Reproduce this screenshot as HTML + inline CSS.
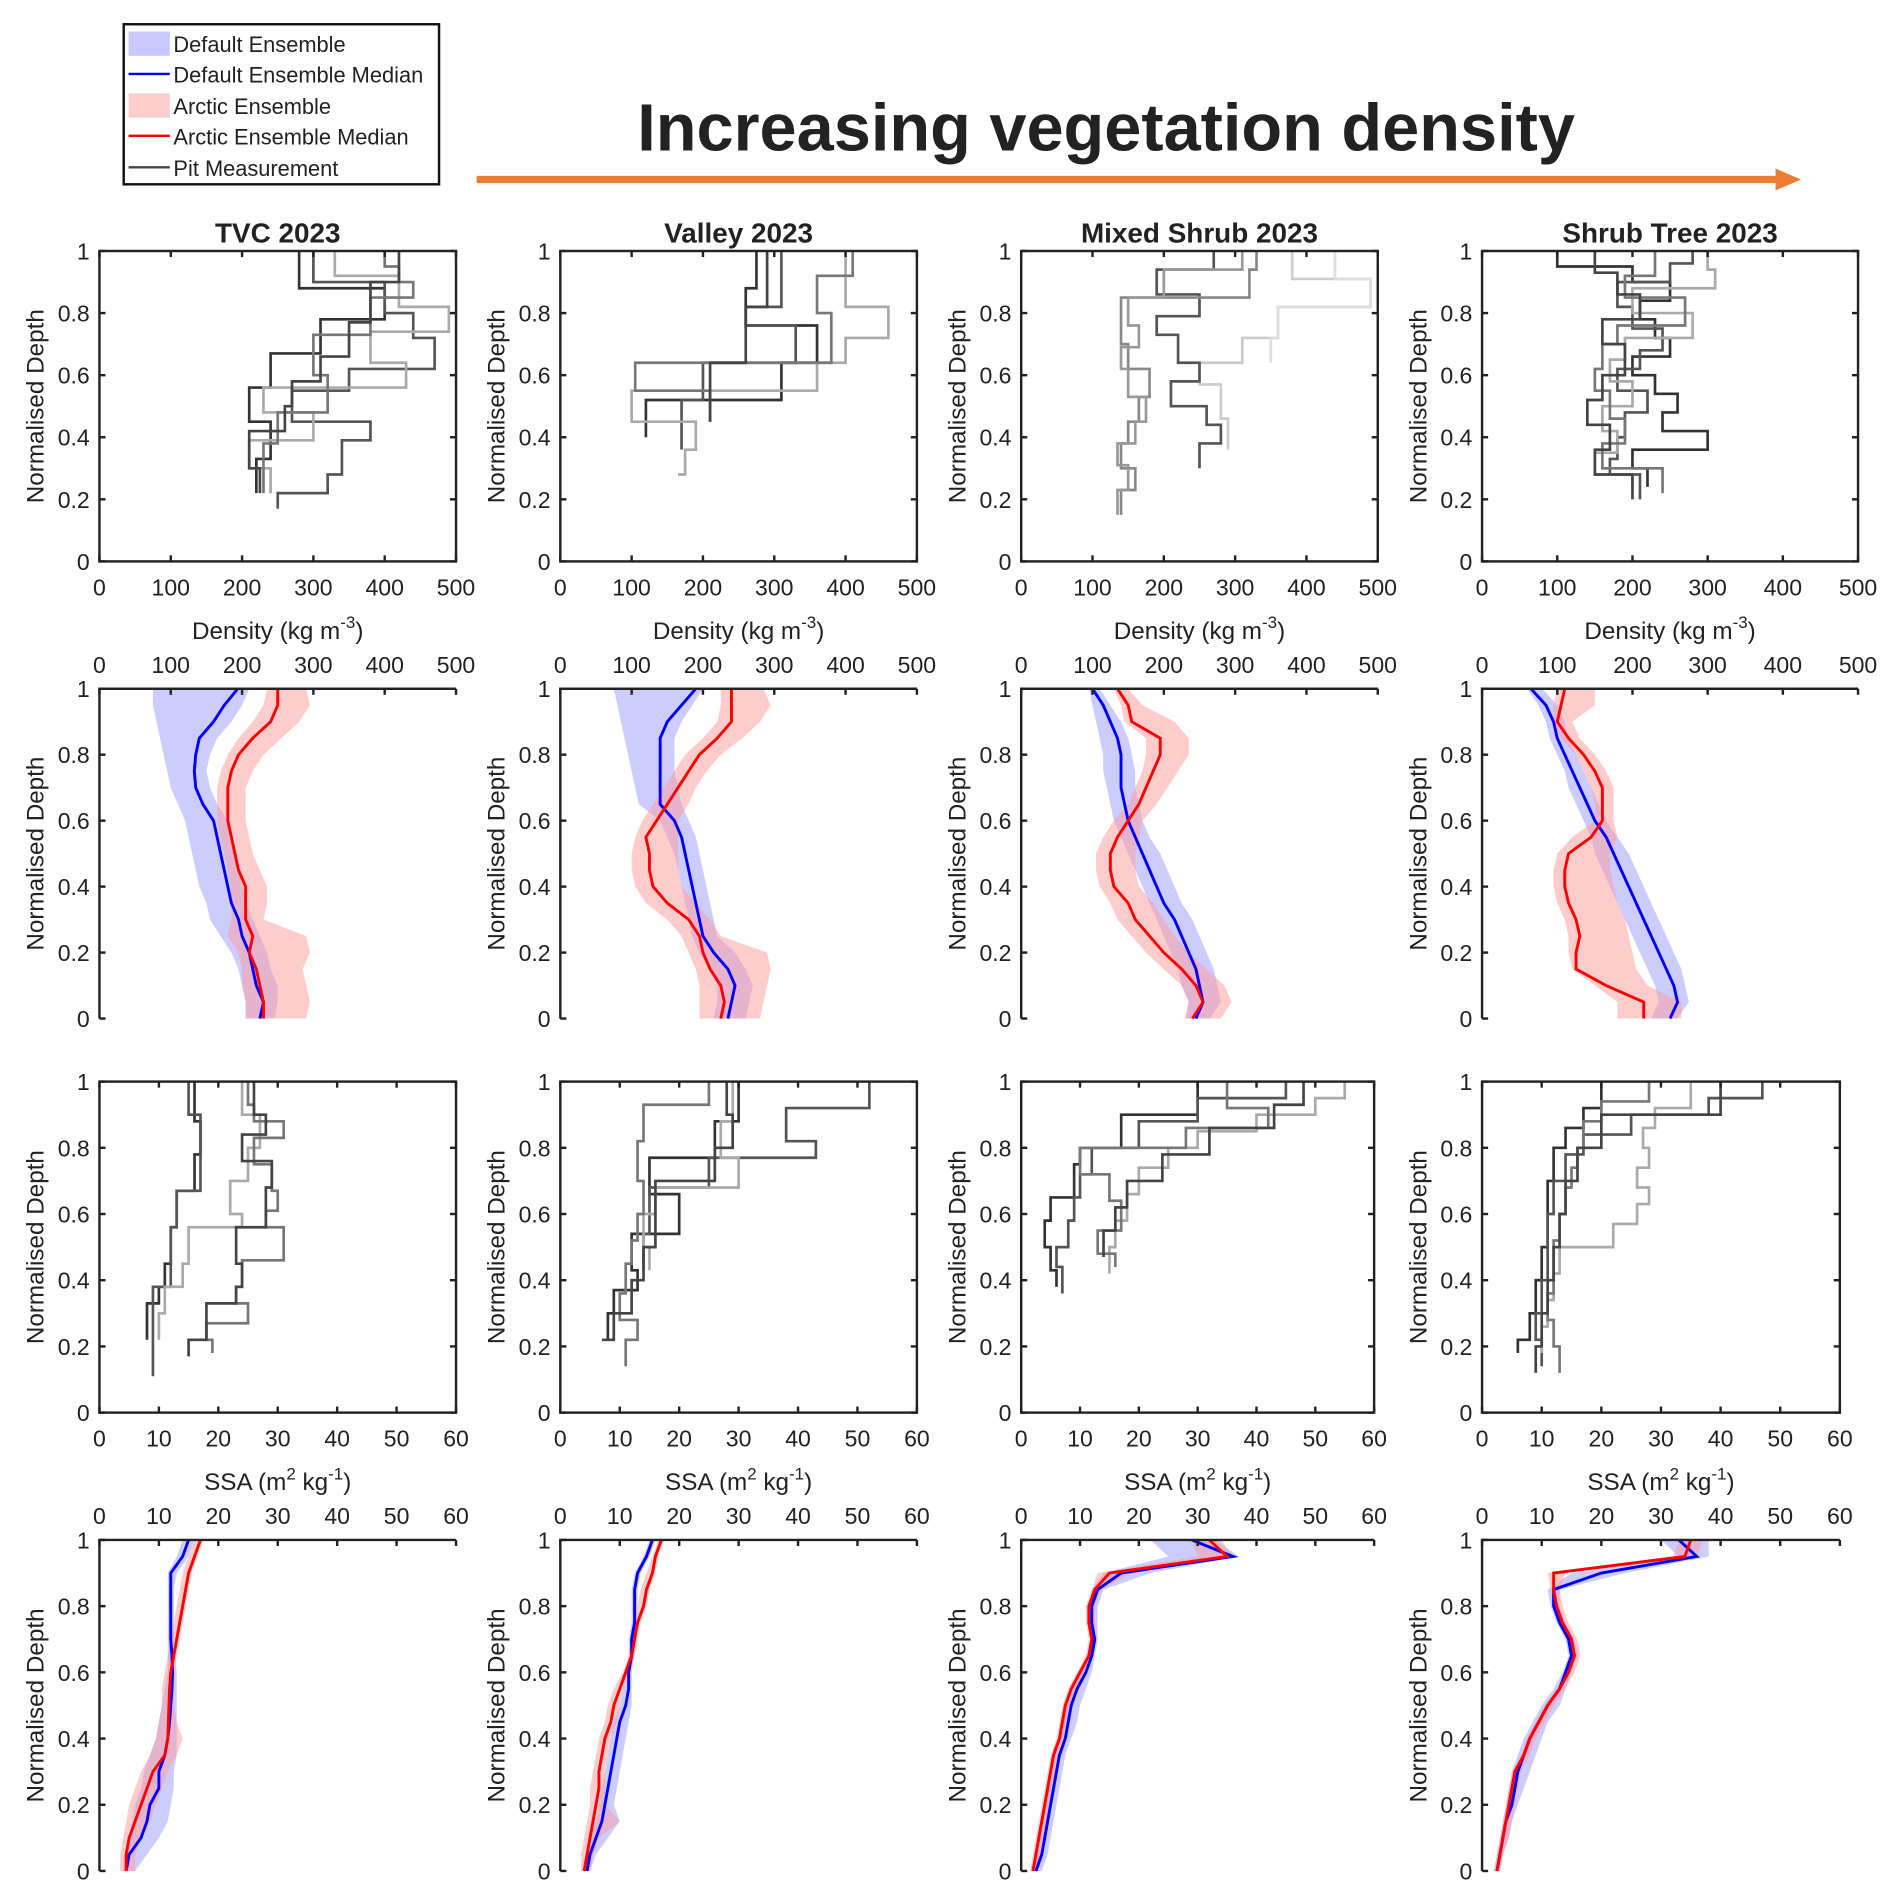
<!DOCTYPE html>
<html><head><meta charset="utf-8"><style>
html,body{margin:0;padding:0;background:#fff}
svg{display:block}
text{font-family:"Liberation Sans",Arial,sans-serif;fill:#222}
</style></head><body>
<svg id="fig" width="1892" height="1894" viewBox="0 0 1560 1562" preserveAspectRatio="none" xmlns="http://www.w3.org/2000/svg">
<g>
<rect x="102" y="20" width="260" height="132" fill="#fff" stroke="#111" stroke-width="2"/>
<rect x="106" y="26" width="34" height="20" fill="#c8c8ff"/>
<text x="143" y="43" font-size="18">Default Ensemble</text>
<line x1="106" y1="61" x2="140" y2="61" stroke="#0000ff" stroke-width="2"/>
<text x="143" y="68" font-size="18">Default Ensemble Median</text>
<rect x="106" y="77" width="34" height="20" fill="#ffcccc"/>
<text x="143" y="94" font-size="18">Arctic Ensemble</text>
<line x1="106" y1="112" x2="140" y2="112" stroke="#ff0000" stroke-width="2"/>
<text x="143" y="119" font-size="18">Arctic Ensemble Median</text>
<line x1="106" y1="138" x2="140" y2="138" stroke="#444" stroke-width="2"/>
<text x="143" y="145" font-size="18">Pit Measurement</text>
</g>
<text x="912" y="124" font-size="55" font-weight="bold" text-anchor="middle" fill="#000">Increasing vegetation density</text>
<line x1="393" y1="148" x2="1466" y2="148" stroke="#ed7d31" stroke-width="6"/>
<polygon points="1464,139 1485,148 1464,157" fill="#ed7d31"/>
<g id="plots"></g>
</svg>
<script>
// depth grid for ensembles (1 -> 0)
const ensDepth=[1,0.95,0.9,0.85,0.8,0.75,0.7,0.65,0.6,0.55,0.5,0.45,0.4,0.35,0.3,0.25,0.2,0.15,0.1,0.05,0];
const colTitles=["TVC 2023","Valley 2023","Mixed Shrub 2023","Shrub Tree 2023"];
const densTicks=[0,100,200,300,400,500];
const ssaTicks=[0,10,20,30,40,50,60];
const depthTicks=[0,0.2,0.4,0.6,0.8,1];
const depthTickLabels=["0","0.2","0.4","0.6","0.8","1"];

// Pit density profiles: [depth breaks, values]
const pitsDens1=[
 [[1,0.88,0.78,0.67,0.56,0.45,0.33,0.22],[280,400,310,240,210,240,220]],
 [[1,0.9,0.8,0.72,0.62,0.55,0.45,0.39,0.28,0.22,0.17],[300,400,440,470,350,270,380,340,320,250]],
 [[1,0.92,0.82,0.74,0.64,0.56,0.48,0.39,0.3,0.22],[330,420,490,380,430,230,300,210,240]],
 [[1,0.95,0.9,0.85,0.73,0.6,0.48,0.38,0.22],[400,420,440,380,300,320,250,230]],
 [[1,0.9,0.77,0.66,0.58,0.5,0.42,0.3,0.22],[420,380,350,310,270,260,210,225]]];
const pitsDens2=[
 [[1,0.88,0.76,0.64,0.52,0.4],[275,260,360,310,120]],
 [[1,0.82,0.76,0.64,0.52,0.36],[310,260,330,200,170]],
 [[1,0.82,0.72,0.64,0.55,0.45,0.36,0.28],[400,460,400,360,100,190,175,165]],
 [[1,0.92,0.8,0.64,0.55,0.45],[410,360,380,105,210]],
 [[1,0.82,0.64,0.52,0.45],[290,260,210,210]]];
const pitsDens3=[
 [[1,0.91,0.82,0.72,0.64,0.57,0.46,0.36],[380,490,360,310,250,280,290]],
 [[1,0.91,0.82,0.72,0.64],[440,490,360,350]],
 [[1,0.94,0.86,0.79,0.73,0.64,0.58,0.5,0.44,0.38,0.3],[270,190,250,190,220,250,210,260,280,250]],
 [[1,0.94,0.85,0.7,0.62,0.53,0.45,0.38,0.3,0.23,0.15],[330,320,140,150,180,165,150,140,160,140]],
 [[1,0.94,0.85,0.76,0.69,0.62,0.53,0.45,0.38,0.31,0.23,0.15],[310,200,150,165,140,150,175,160,135,150,135]]];
const pitsDens4=[
 [[1,0.95,0.9,0.84,0.78,0.72,0.66,0.6,0.54,0.48,0.42,0.36,0.3,0.24],[100,200,250,210,230,250,200,230,260,240,300,200,220]],
 [[1,0.96,0.9,0.82,0.75,0.68,0.62,0.55,0.48,0.4,0.33,0.28,0.2],[280,250,180,200,240,210,180,220,190,180,170,210]],
 [[1,0.94,0.88,0.8,0.72,0.65,0.58,0.5,0.42,0.35,0.28,0.22],[300,310,200,280,190,170,200,160,180,150,200]],
 [[1,0.92,0.85,0.76,0.7,0.62,0.55,0.46,0.38,0.3,0.22],[230,190,270,180,160,150,170,190,160,240]],
 [[1,0.93,0.86,0.78,0.7,0.6,0.52,0.44,0.36,0.28,0.2],[150,180,210,160,190,160,140,170,150,200]]];
// Pit SSA profiles
const pitsSsa1=[
 [[1,0.88,0.78,0.67,0.56,0.45,0.38,0.33,0.22],[16,17,16,13,12,11,10,8]],
 [[1,0.9,0.8,0.67,0.56,0.38,0.33,0.22,0.11],[15,17,17,13,12,9,9,9]],
 [[1,0.9,0.8,0.7,0.6,0.56,0.45,0.38,0.3,0.22],[24,27,25,22,24,15,14,11,10]],
 [[1,0.93,0.88,0.83,0.75,0.67,0.61,0.56,0.46,0.38,0.33,0.27,0.22,0.18],[25,26,31,26,29,30,28,31,24,23,25,18,19]],
 [[1,0.9,0.84,0.76,0.68,0.56,0.45,0.38,0.33,0.22,0.17],[26,28,24,29,28,23,24,23,18,15]]];
const pitsSsa2=[
 [[1,0.88,0.77,0.66,0.54,0.43,0.37,0.3,0.22],[30,26,15,20,12,13,9,8]],
 [[1,0.92,0.82,0.77,0.68,0.54,0.43],[52,38,43,25,15,14]],
 [[1,0.88,0.77,0.68,0.6,0.5,0.43],[29,27,30,16,14,15]],
 [[1,0.93,0.82,0.7,0.6,0.52,0.45,0.36,0.28,0.22,0.14],[25,14,13,14,13,12,11,10,13,11]],
 [[1,0.9,0.8,0.7,0.6,0.5,0.4,0.3,0.22],[28,29,26,16,16,14,12,9,7]]];
const pitsSsa3=[
 [[1,0.9,0.8,0.75,0.65,0.58,0.5,0.43,0.38],[30,17,10,9,5,4,5,6]],
 [[1,0.95,0.88,0.8,0.72,0.65,0.58,0.5,0.44,0.36],[45,30,20,12,10,9,8,6,7]],
 [[1,0.95,0.9,0.85,0.8,0.74,0.66,0.58,0.5,0.42],[55,50,40,30,25,20,18,16,15]],
 [[1,0.92,0.86,0.8,0.72,0.64,0.55,0.48,0.44],[35,42,28,10,15,17,13,16]],
 [[1,0.93,0.86,0.78,0.7,0.62,0.55,0.47],[48,43,32,24,18,16,14]]];
const pitsSsa4=[
 [[1,0.92,0.86,0.8,0.7,0.6,0.5,0.4,0.3,0.22,0.18],[20,17,14,12,11,11,10,9,8,6]],
 [[1,0.95,0.9,0.84,0.78,0.7,0.6,0.5,0.4,0.3,0.22,0.14],[47,38,25,17,14,12,11,11,10,9,10]],
 [[1,0.92,0.86,0.8,0.74,0.68,0.63,0.57,0.5,0.42,0.34,0.26,0.18],[35,29,27,28,26,28,26,22,13,12,11,10]],
 [[1,0.94,0.88,0.8,0.74,0.68,0.6,0.52,0.44,0.36,0.28,0.2,0.12],[28,20,17,16,15,14,13,12,12,11,12,13]],
 [[1,0.9,0.8,0.7,0.6,0.5,0.4,0.3,0.2,0.12],[40,20,16,14,13,12,11,10,9]]];
const pitColors=["#333","#555","#aaa","#777","#444"];
const pitColorsMixed=["#ccc","#ddd","#555","#888","#999"];

// Ensemble density
const dDefMed1=[194,175,160,140,135,133,135,145,160,165,170,175,180,185,195,200,210,215,220,230,225];
const dDefLo1=[75,75,80,85,90,95,100,110,120,125,130,135,140,150,155,170,185,195,200,205,205];
const dDefHi1=[210,200,185,165,155,150,155,165,180,185,190,195,200,205,215,225,235,240,250,250,245];
const dArcMed1=[250,250,240,215,195,185,180,180,180,185,190,195,205,205,205,215,210,220,225,230,230];
const dArcLo1=[235,230,215,195,180,170,165,165,165,170,175,180,185,185,185,180,195,200,200,205,205];
const dArcHi1=[290,295,280,255,230,215,205,205,205,210,215,225,235,235,230,290,295,285,290,295,290];
const dDefMed2=[190,170,150,140,140,140,140,140,160,170,175,180,185,190,195,200,215,235,245,240,235];
const dDefLo2=[75,80,85,90,95,100,105,110,140,150,160,165,170,175,180,185,195,210,220,220,215];
const dDefHi2=[200,185,170,160,160,160,165,170,180,190,195,200,205,210,215,220,245,260,270,265,260];
const dArcMed2=[240,240,240,220,195,180,165,150,135,120,125,125,130,150,180,195,200,210,225,230,225];
const dArcLo2=[225,225,220,200,175,160,145,130,115,105,100,100,105,120,150,170,180,190,195,195,195];
const dArcHi2=[285,295,280,255,225,205,190,180,165,165,165,165,170,190,210,225,290,295,290,285,280];
const dDefMed3=[100,115,125,135,140,140,140,145,150,160,170,180,190,200,215,225,235,245,250,255,245];
const dDefLo3=[95,100,105,110,115,115,120,125,130,140,150,160,170,180,190,200,210,220,225,235,230];
const dDefHi3=[110,125,140,150,155,160,160,165,170,180,195,205,215,225,240,250,260,270,275,280,265];
const dArcMed3=[135,150,155,195,195,185,175,165,150,135,125,125,130,150,160,180,200,225,245,255,240];
const dArcLo3=[130,140,145,175,175,170,160,150,130,115,105,105,110,125,135,155,175,200,225,235,230];
const dArcHi3=[150,170,215,235,235,220,205,190,170,165,160,160,165,185,200,215,235,260,285,295,280];
const dDefMed4=[65,85,95,100,110,120,130,140,150,165,175,185,195,205,215,225,235,245,255,260,250];
const dDefLo4=[60,75,85,90,100,110,115,125,135,145,150,160,170,180,190,200,210,220,230,235,225];
const dDefHi4=[80,100,110,115,125,135,145,155,165,180,195,205,215,225,235,245,255,265,270,275,260];
const dArcMed4=[110,105,100,115,135,150,160,160,160,145,115,110,110,115,125,130,125,125,165,215,215];
const dArcLo4=[100,95,95,105,125,135,145,150,150,120,100,95,95,100,110,115,115,120,150,180,180];
const dArcHi4=[150,150,120,130,150,165,175,175,175,180,170,170,175,180,190,195,200,205,220,265,265];
// Ensemble SSA
const sDefMed1=[15,14,12,12,12,12,12,12.2,12.3,12.2,12,11.8,11.5,11,10,10,8.5,8,7,5,4.5];
const sDefLo1=[14,13,11.5,11.5,11.5,11.5,11.5,11.5,11.5,11,10.5,10,9.5,8.5,7.5,7,6,5.5,5,4.2,4];
const sDefHi1=[16,15,13,12.5,12.5,12.5,12.5,12.8,13,13,13,13,13,13,12.5,12.5,12,11.5,10,8,6];
const sArcMed1=[17,16,15,14.5,14,13.5,13,12.5,12,11.8,11.7,11.6,11.5,11,9,8,7,6,5,4.5,4.5];
const sArcLo1=[16,15,14,13.5,13,12.5,12,11.5,11,10.5,10.5,10,9.5,8.5,7,6,5,4.5,4,3.5,3.5];
const sArcHi1=[17.5,16.5,15.5,15,14.5,14,13.5,13,12.5,12.5,12.5,13,14,13,11.5,10.5,9.5,8.5,7,6,6];
const sDefMed2=[15.5,14.5,13,12.5,12.5,12.5,12,12,11.5,11.5,11,10,9.5,9,8.5,8,7.5,7,6,5,4.5];
const sDefLo2=[15,14,12.5,12,12,12,11.5,11.5,11,10.5,10,9,8.5,8,7.5,7,6.5,6,5,4.5,4];
const sDefHi2=[16,15,13.5,13,13,13,12.5,12.5,12,12,12,11.5,11,10.5,10,9.5,9,10,8,6,5];
const sArcMed2=[17,16,15.5,14.5,14,13,12.5,12,11,10,9,8.5,7.5,7,6.5,6.5,6,5.5,5,4.5,4];
const sArcLo2=[16.5,15.5,14.5,13.5,13,12.5,12,11.5,10.5,9,8,7.5,6.5,6,5.5,5,5,4.5,4,3.5,3.5];
const sArcHi2=[17.5,16.5,16,15,14.5,13.5,13,12.5,11.5,10.5,10,9.5,8.5,8,7.5,7.5,7.5,10,6.5,5.5,5];
const sDefMed3=[29,36,17,13,12,12,12.5,12,11,9.5,8.5,8,7.5,6.5,6,5.5,5,4.5,4,3.5,2.5];
const sDefLo3=[22,25,14,12,11.5,11.5,12,11.5,10,8.5,7.5,7,6.5,5.5,5,4.5,4,3.5,3,2.5,2];
const sDefHi3=[33,37,22,14,13,13,13,12.5,12,11,10,9.5,8.5,7.5,7,6.5,6,5.5,5,4.5,3.5];
const sArcMed3=[32,35,15,12.5,11.5,11.5,12,11.5,10,8.5,7.5,7,6.5,5.5,5,4.5,4,3.5,3,2.5,2];
const sArcLo3=[29,30,13,12,11,11,11.5,11,9.5,8,7,6.5,6,5,4.5,4,3.5,3,2.5,2,1.5];
const sArcHi3=[34,36,19,13.5,12.5,12.5,12.5,12,11,9.5,8.5,8,7.5,6.5,6,5.5,5,4.5,4,3.5,3];
const sDefMed4=[33,36,20,12,12,13,14.5,15,14,13,11,9.5,8,7,6,5.5,5,4,3.5,3,2.5];
const sDefLo4=[30,33,15,11,11.5,12.5,14,14.5,13.5,12,10,8.5,7,6,5,4.5,4,3.5,3,2.5,2];
const sDefHi4=[38,38,24,13,13,14,15.5,16,15,14,13,11,10,9,8,7,6,5,4.5,3.5,3];
const sArcMed4=[35,34,12,12,12.5,13.5,15,15.5,14.5,13,11,9.5,8,7,5.5,5,4.5,4,3.5,3,2.5];
const sArcLo4=[33,32,11,11.5,12,13,14.5,15,14,12.5,10.5,9,7.5,6.5,5,4.5,4,3.5,3,2.5,2];
const sArcHi4=[37,36,14,13,13.5,14.5,16,16.5,15.5,14,12,10.5,9,8,6.5,6,5.5,5,4.5,3.5,3];

const NS="http://www.w3.org/2000/svg";
const root=document.getElementById('plots');
function mk(tag,attrs,parent){const e=document.createElementNS(NS,tag);for(const k in attrs)e.setAttribute(k,attrs[k]);(parent||root).appendChild(e);return e;}

const colX=[[82,376,376],[462,756,756],[842,1136,1133],[1222,1532,1517]];
const rows=[{t:207,b:463,type:'pit',q:'dens'},{t:568,b:840,type:'ens',q:'dens'},{t:892,b:1165,type:'pit',q:'ssa'},{t:1270,b:1543,type:'ens',q:'ssa'}];
const pitsAll={dens:[pitsDens1,pitsDens2,pitsDens3,pitsDens4],ssa:[pitsSsa1,pitsSsa2,pitsSsa3,pitsSsa4]};
const ensAll={dens:[[dDefMed1,dDefLo1,dDefHi1,dArcMed1,dArcLo1,dArcHi1],[dDefMed2,dDefLo2,dDefHi2,dArcMed2,dArcLo2,dArcHi2],[dDefMed3,dDefLo3,dDefHi3,dArcMed3,dArcLo3,dArcHi3],[dDefMed4,dDefLo4,dDefHi4,dArcMed4,dArcLo4,dArcHi4]],
 ssa:[[sDefMed1,sDefLo1,sDefHi1,sArcMed1,sArcLo1,sArcHi1],[sDefMed2,sDefLo2,sDefHi2,sArcMed2,sArcLo2,sArcHi2],[sDefMed3,sDefLo3,sDefHi3,sArcMed3,sArcLo3,sArcHi3],[sDefMed4,sDefLo4,sDefHi4,sArcMed4,sArcLo4,sArcHi4]]};

rows.forEach((r,ri)=>{
 colX.forEach((c,ci)=>{
  const x0=c[0], x1=(r.q==='dens')?c[1]:c[2];
  const xmax=r.q==='dens'?500:60, ticks=r.q==='dens'?densTicks:ssaTicks;
  const sx=v=>x0+(v/xmax)*(x1-x0), sy=d=>r.b-d*(r.b-r.t);
  const g=mk('g',{});
  
  
  if(r.type==='pit'){
   const cols=(ri===0&&ci===2)?pitColorsMixed:pitColors;
   pitsAll[r.q][ci].forEach((p,pi)=>{
    const d=p[0],v=p[1];let pts=[];
    for(let i=0;i<v.length;i++){pts.push(sx(v[i])+','+sy(d[i]));pts.push(sx(v[i])+','+sy(d[i+1]));}
    const pl=mk('polyline',{points:pts.join(' '),fill:'none',stroke:cols[pi],'stroke-width':2.2},g);
    
    
   });
  } else {
   const e=ensAll[r.q][ci];
   const band=(lo,hi,col,name)=>{let pts=[];ensDepth.forEach((d,i)=>pts.push(sx(hi[i])+','+sy(d)));for(let i=ensDepth.length-1;i>=0;i--)pts.push(sx(lo[i])+','+sy(ensDepth[i]));
    const p=mk('polygon',{points:pts.join(' '),fill:col,'fill-opacity':0.5},g);};
   const line=(m,col,name)=>{const p=mk('polyline',{points:ensDepth.map((d,i)=>sx(m[i])+','+sy(d)).join(' '),fill:'none',stroke:col,'stroke-width':2.4},g);};
   band(e[1],e[2],'#9999ff','default-ensemble-band');
   band(e[4],e[5],'#ff9999','arctic-ensemble-band');
   line(e[0],'#0000ff','default-median-line');
   line(e[3],'#ff0000','arctic-median-line');
  }
  if(r.type==='pit'){mk('rect',{x:x0,y:r.t,width:x1-x0,height:r.b-r.t,fill:'none',stroke:'#222','stroke-width':2},g);}
  else{mk('polyline',{points:`${x0},${r.b} ${x0},${r.t} ${x1},${r.t}`,fill:'none',stroke:'#222','stroke-width':2},g);}
  ticks.forEach(t=>{
   const x=sx(t);
   if(r.type==='pit'){mk('line',{x1:x,y1:r.b,x2:x,y2:r.b-5,stroke:'#222','stroke-width':2},g);mk('line',{x1:x,y1:r.t,x2:x,y2:r.t+5,stroke:'#222','stroke-width':2},g);
    const tx=mk('text',{x:x,y:r.b+28,'font-size':19,'text-anchor':'middle'},g);tx.textContent=t;}
   else{mk('line',{x1:x,y1:r.t,x2:x,y2:r.t+5,stroke:'#222','stroke-width':2},g);
    const tx=mk('text',{x:x,y:r.t-13,'font-size':19,'text-anchor':'middle'},g);tx.textContent=t;}
  });
  depthTicks.forEach((d,i)=>{
   const y=sy(d);
   mk('line',{x1:x0,y1:y,x2:x0+5,y2:y,stroke:'#222','stroke-width':2},g);
   if(r.type==='pit')mk('line',{x1:x1,y1:y,x2:x1-5,y2:y,stroke:'#222','stroke-width':2},g);
   const tx=mk('text',{x:x0-8,y:y+7,'font-size':19,'text-anchor':'end'},g);tx.textContent=depthTickLabels[i];
  });
  const yl=mk('text',{x:0,y:0,'font-size':20,'text-anchor':'middle',transform:`translate(${x0-46},${(r.t+r.b)/2}) rotate(-90)`},g);
  yl.textContent='Normalised Depth';
  
  
  if(r.type==='pit'){
   const xl=mk('text',{x:(x0+x1)/2,y:r.b+64,'font-size':20,'text-anchor':'middle'},g);
   
   
   if(r.q==='dens'){xl.innerHTML='Density (kg m<tspan dy="-9" font-size="14">-3</tspan><tspan dy="9">)</tspan>';}
   else{xl.innerHTML='SSA (m<tspan dy="-9" font-size="14">2</tspan><tspan dy="9"> kg</tspan><tspan dy="-9" font-size="14">-1</tspan><tspan dy="9">)</tspan>';}
  }
  if(ri===0){
   const tt=mk('text',{x:(x0+x1)/2,y:200,'font-size':23,'font-weight':'bold','text-anchor':'middle',fill:'#000'},g);
   tt.textContent=colTitles[ci];
   
   
  }
 });
});
</script>
</body></html>
